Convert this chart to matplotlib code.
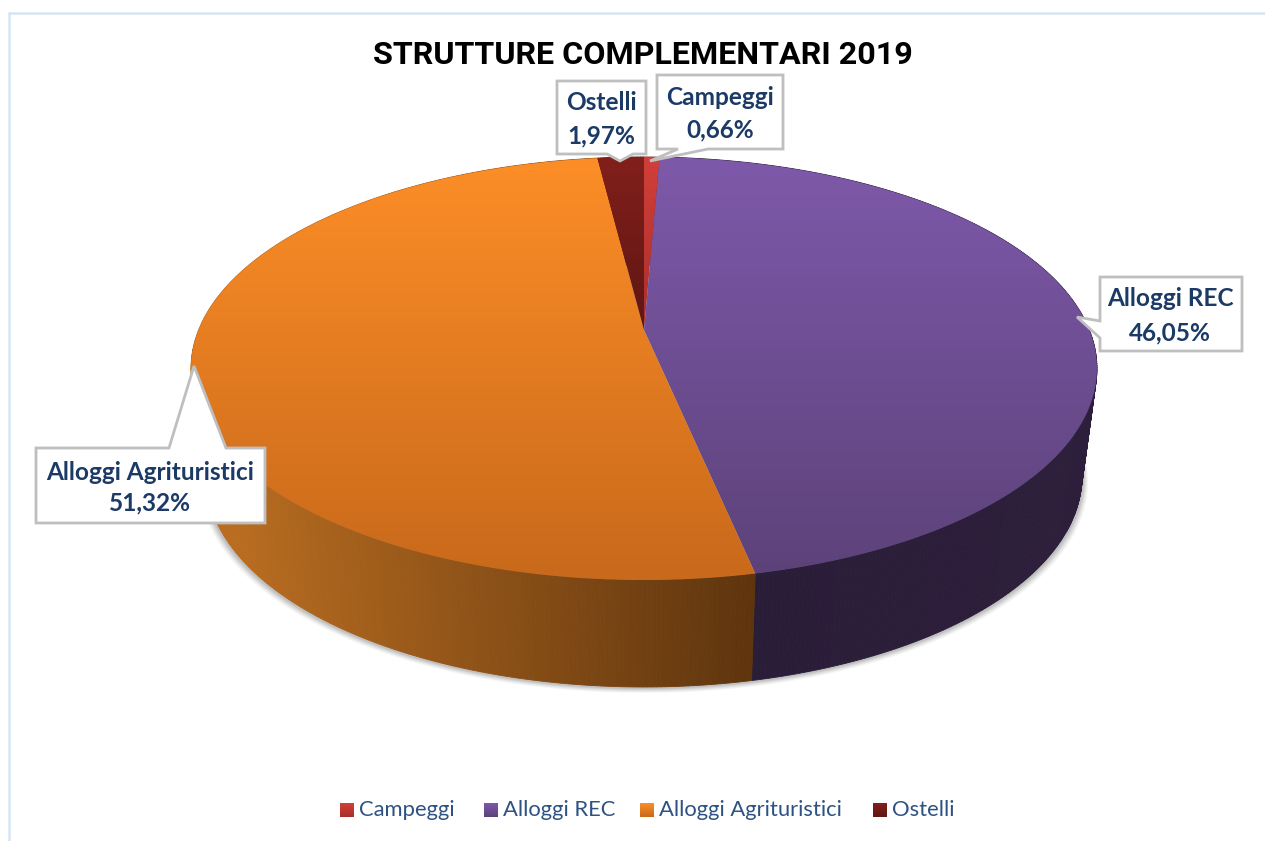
import numpy as np
import matplotlib
matplotlib.use("Agg")
import matplotlib.pyplot as plt
from matplotlib.patches import Polygon
from matplotlib.colors import LinearSegmentedColormap, to_rgb

title = "STRUTTURE COMPLEMENTARI 2019"
categories = ["Campeggi", "Alloggi REC", "Alloggi Agrituristici", "Ostelli"]
percent = [0.66, 46.05, 51.32, 1.97]

top_light = ["#d23f3a", "#7e59aa", "#fd8e27", "#821f1b"]
top_dark = ["#a82e2a", "#5c4279", "#c8691b", "#5e1613"]
wall_left = ["#8a2420", "#2a1d38", "#b96d20", "#4a100e"]
wall_right = ["#8a2420", "#2d1f3b", "#5f350e", "#4a100e"]

# callouts: box (x0, y0, x1, y1), pointer tip, pointer base
boxes = [(657, 75, 783, 149), (1100, 277, 1242, 351), (36, 448, 265, 523), (557, 81, 646, 154)]
tips = [(650, 161), (1077, 317), (194, 366), (620, 161)]
bases = [("b", 678, 708), ("l", 321, 338), ("t", 169, 226), ("b", 607, 633)]
label_centers = [(720, 97, 130), (1170, 299, 333), (150, 472, 503), (601, 102, 136)]
legend_x = [340, 484, 640, 873]

fig = plt.figure(figsize=(12.65, 8.41), dpi=100, facecolor="white")
ax = fig.add_axes([0, 0, 1, 1])
W, H = 1265, 841

CX, CY = 644.0, 330.0
A, B, K = 445.4, 204.5, 0.182
BY, BA, BB = 437.6, 430.7, 204.0


def proj(theta, r=1.0, cy=CY, a=A, b=B):
    u, v = r * np.sin(theta), r * np.cos(theta)
    w = 1 + K * v
    return np.column_stack([CX + a * u / w, cy - b * v / w])


edges = np.cumsum([0] + percent) / sum(percent) * 2 * np.pi

# soft shadow under the base
th = np.linspace(0, 2 * np.pi, 361)
for dy, da, al in [(6, 6, 0.05), (5, 5, 0.07), (4, 4, 0.09), (3, 3, 0.11), (2, 2, 0.14)]:
    ax.add_patch(Polygon(proj(th, cy=BY + dy, a=BA + da, b=BB), closed=True, fc="#606060",
                         ec="none", alpha=al, zorder=1))

# side wall as narrow strips
for i in range(len(percent)):
    n = max(2, int(np.degrees(edges[i + 1] - edges[i]) / 0.5))
    t = np.linspace(edges[i], edges[i + 1], n + 1)
    ptop, pbot = proj(t), proj(t, cy=BY, a=BA, b=BB)
    c0, c1 = np.array(to_rgb(wall_left[i])), np.array(to_rgb(wall_right[i]))
    xlo, xhi = (225, 755) if i == 2 else (755, 1090)
    for j in range(n):
        f = np.clip((ptop[j, 0] - xlo) / (xhi - xlo), 0, 1)
        col = c0 + (c1 - c0) * f
        ax.add_patch(Polygon([ptop[j], ptop[j + 1], pbot[j + 1], pbot[j]], closed=True,
                             fc=col, ec=col, lw=0.6, zorder=2))

# top faces with vertical gradient
grad = np.linspace(0, 1, 256).reshape(-1, 1)
for i in range(len(percent)):
    t = np.linspace(edges[i], edges[i + 1], 300)
    poly = np.vstack([[CX, CY], proj(t)])
    patch = Polygon(poly, closed=True, fc="none", ec="none", transform=ax.transData)
    ax.add_patch(patch)
    cmap = LinearSegmentedColormap.from_list("g", [top_light[i], top_dark[i]])
    y0, y1 = (157, 580) if i in (1, 2) else (157, 330)
    im = ax.imshow(grad, cmap=cmap, extent=(0, W, y1, y0), aspect="auto", zorder=3,
                   interpolation="bilinear")
    im.set_clip_path(patch)

# callouts
for i, cat in enumerate(categories):
    x0, y0, x1, y1 = boxes[i]
    side, s0, s1 = bases[i]
    tip = tips[i]
    if side == "b":
        pts = [(x0, y0), (x1, y0), (x1, y1), (s1, y1), tip, (s0, y1), (x0, y1)]
    elif side == "t":
        pts = [(x0, y0), (s0, y0), tip, (s1, y0), (x1, y0), (x1, y1), (x0, y1)]
    else:
        pts = [(x0, y0), (x1, y0), (x1, y1), (x0, y1), (x0, s1), tip, (x0, s0)]
    ax.add_patch(Polygon(pts, closed=True, fc="white", ec="#bfbfbf", lw=2, zorder=5,
                         joinstyle="miter"))
    cx, ya, yb = label_centers[i]
    ax.text(cx, ya, cat, ha="center", va="center", family="Lato", weight="bold",
            fontsize=17.6, color="#1b3a66", zorder=6)
    ax.text(cx, yb, f"{percent[i]:.2f}%".replace(".", ","), ha="center", va="center",
            family="Lato", weight="bold", fontsize=17.6, color="#1b3a66", zorder=6)

# legend
for i, cat in enumerate(categories):
    x = legend_x[i]
    cmap = LinearSegmentedColormap.from_list("l", [top_light[i], top_dark[i]])
    ax.imshow(grad, cmap=cmap, extent=(x, x + 14, 817, 803), aspect="auto", zorder=4)
    ax.text(x + 19, 810, cat, ha="left", va="center", family="Lato", fontsize=15.8,
            color="#2d5283", zorder=4)

# title
ax.text(643, 55, title, ha="center", va="center", family="Roboto", weight="bold",
        fontsize=23.2, color="black", zorder=6)

# chart frame
ax.plot([9, 9, W], [H, 13, 13], color="#d6e5f4", lw=1.8, zorder=0, solid_joinstyle="miter")

ax.set_xlim(0, W)
ax.set_ylim(H, 0)
ax.axis("off")
fig.savefig("out.png", dpi=100, facecolor="white")
